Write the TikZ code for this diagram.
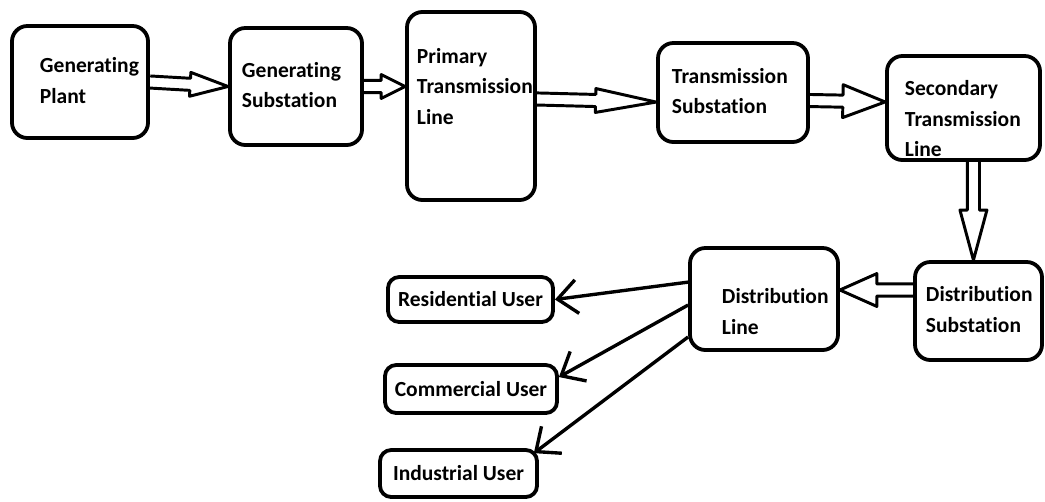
\documentclass[tikz,border=0pt]{standalone}
\usepackage{fontspec}
\setmainfont{Carlito}[Ligatures=NoCommon]
\usetikzlibrary{arrows.meta,calc}
\hyphenpenalty=10000

% left aligned lines inside a box, optionally lifted
\newcommand{\boxtext}[2][0pt]{\raisebox{#1}[\height][\depth]{\begin{tabular}{@{}l@{}}#2\end{tabular}}}

% hollow double-line arrow: start, tip, head length, head half width
\newcommand{\hollowarrow}[4]{%
  \coordinate (hb) at ($(#2)!#3!(#1)$);
  \draw[fatline] ($(#1)!4.3pt!90:(#2)$) -- ($(hb)!4.3pt!-90:(#1)$) -- ($(hb)!#4!-90:(#1)$)
    -- (#2) -- ($(hb)!#4!90:(#1)$) -- ($(hb)!4.3pt!90:(#1)$) -- ($(#1)!4.3pt!-90:(#2)$);
}

\tikzset{
  stage/.style={draw, line width=2.7pt, rounded corners=11pt, align=left, inner ysep=0pt,
    font=\fontsize{15.3pt}{21.6pt}\selectfont\bfseries},
  user/.style={draw, line width=2.7pt, rounded corners=8pt, inner sep=0pt,
    font=\fontsize{15.3pt}{21.6pt}\selectfont\bfseries},
  feed/.style={line width=2.4pt, -{Straight Barb[length=14pt,width=24pt]}},
  fatline/.style={line width=2.1pt, line join=round}
}

\begin{document}
\begin{tikzpicture}[x=0.025cm,y=-0.025cm]
\useasboundingbox (0,0) rectangle (1045,501);

% top row, generation and transmission
\node[stage, text width=2.0cm, inner xsep=0.7cm, minimum height=2.8cm] (gp) at (80,82) {\boxtext{Generating\\Plant}};
\node[stage, text width=2.7cm, inner xsep=0.3cm, minimum height=2.925cm] (gs) at (296,86.5) {\boxtext{Generating\\Substation}};
\node[stage, text width=2.7cm, inner xsep=0.25cm, minimum height=4.7cm] (ptl) at (471,106) {\boxtext[0.46cm]{Primary\\Transmission\\Line}};
\node[stage, text width=3.05cm, inner xsep=0.35cm, minimum height=2.475cm] (ts) at (733,92.5) {\boxtext{Transmission\\Substation}};
\node[stage, text width=2.925cm, inner xsep=0.45cm, minimum height=2.6cm] (stl) at (963.5,108) {\boxtext[-0.3cm]{Secondary\\Transmission\\Line}};

% distribution
\node[stage, text width=2.625cm, inner xsep=0.275cm, minimum height=2.45cm] (ds) at (978.5,311) {\boxtext{Distribution\\Substation}};
\node[stage, text width=2.1cm, inner xsep=0.8cm, minimum height=2.55cm] (dl) at (764,299) {\boxtext[-0.35cm]{Distribution\\Line}};

% consumers
\node[user, minimum width=4.125cm, minimum height=1.125cm] (res) at (470.5,299.5) {Residential User};
\node[user, minimum width=4.3cm, minimum height=1.2cm] (com) at (471,389) {Commercial User};
\node[user, minimum width=3.925cm, minimum height=1.175cm] (ind) at (458.5,473.5) {Industrial User};

% power flow
\coordinate (a2t) at (ptl.west |- gs.east);
\coordinate (a3s) at ([yshift=5pt]ptl.east);
\coordinate (a3t) at ([yshift=-6.8pt]ts.west);
\coordinate (a4s) at ([yshift=-5.7pt]ts.east);
\coordinate (a4t) at ([yshift=4.3pt]stl.west);
\coordinate (a5t) at ([xshift=-3.6pt]ds.north);
\coordinate (a5s) at (stl.south -| a5t);
\coordinate (a6t) at ([yshift=6.4pt]dl.east);
\coordinate (a6s) at (ds.west |- a6t);

\hollowarrow{gp.east}{gs.west}{27pt}{8.5pt}
\hollowarrow{gs.east}{a2t}{17pt}{8.5pt}
\hollowarrow{a3s}{a3t}{43pt}{8.5pt}
\hollowarrow{a4s}{a4t}{30pt}{11.7pt}
\hollowarrow{a5s}{a5t}{35.6pt}{9.6pt}
\hollowarrow{a6s}{a6t}{26.3pt}{11.7pt}

\draw[feed] ([yshift=12pt]dl.west) -- (res.east);
\draw[feed] ([yshift=-4.3pt]dl.west) -- ([yshift=8.5pt]com.east);
\draw[feed] ([yshift=-27pt]dl.west) -- ([shift={(-3.6pt,-3.6pt)}]ind.north east);
\end{tikzpicture}
\end{document}
